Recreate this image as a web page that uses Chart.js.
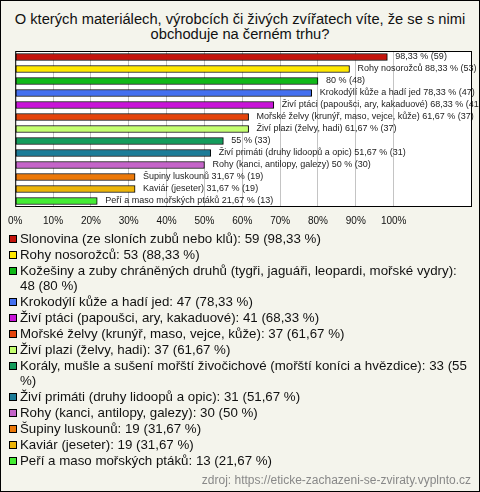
<!DOCTYPE html>
<html>
<head>
<meta charset="utf-8">
<script src="https://cdn.jsdelivr.net/npm/chart.js@4"></script>
<style>
  html, body { margin: 0; padding: 0; }
  body { font-family: "Liberation Sans", Arial, sans-serif; }
  #page {
    position: relative; width: 478px; height: 490px;
    border: 1px solid #000; background: #f4f4ec; overflow: hidden;
  }
  #title {
    position: absolute; left: 0; top: 11px; width: 478px;
    text-align: center; font-size: 14.7px; line-height: 15px; color: #111;
  }
  #chart-wrap { position: absolute; left: -1px; top: 39px; width: 480px; height: 199px; }
  #legend { position: absolute; left: 8px; top: 230px; width: 462px; font-size: 13.3px; color: #111; }
  .item { display: flex; align-items: flex-start; line-height: 15px; margin-bottom: 1px; }
  .box { flex: none; width: 6px; height: 6px; border: 1px solid #000; margin: 4px 3px 0 0; }
  #source { position: absolute; right: 8px; top: 472px; font-size: 12px; color: #888; }
</style>
</head>
<body>
<div id="page">
  <div id="title">O kterých materiálech, výrobcích či živých zvířatech víte, že se s nimi<br>obchoduje na černém trhu?</div>
  <div id="chart-wrap"><canvas id="bar-chart"></canvas></div>
  <div id="legend"></div>
  <div id="source">zdroj: https://eticke-zachazeni-se-zviraty.vyplnto.cz</div>
</div>
<script>
// Data
const categories = [
    'Slonovina (ze sloních zubů nebo klů)',
    'Rohy nosorožců',
    'Kožešiny a zuby chráněných druhů (tygři, jaguáři, leopardi, mořské vydry)',
    'Krokodýlí kůže a hadí jed',
    'Živí ptáci (papoušci, ary, kakaduové)',
    'Mořské želvy (krunýř, maso, vejce, kůže)',
    'Živí plazi (želvy, hadi)',
    'Korály, mušle a sušení mořští živočichové (mořští koníci a hvězdice)',
    'Živí primáti (druhy lidoopů a opic)',
    'Rohy (kanci, antilopy, galezy)',
    'Šupiny luskounů',
    'Kaviár (jeseter)',
    'Peří a maso mořských ptáků'
];
// names written next to the bars (empty = value only)
const barLabelNames = [
    '', 'Rohy nosorožců', '', 'Krokodýlí kůže a hadí jed',
    'Živí ptáci (papoušci, ary, kakaduové)', 'Mořské želvy (krunýř, maso, vejce, kůže)',
    'Živí plazi (želvy, hadi)', '', 'Živí primáti (druhy lidoopů a opic)',
    'Rohy (kanci, antilopy, galezy)', 'Šupiny luskounů', 'Kaviár (jeseter)',
    'Peří a maso mořských ptáků'
];
const counts = [59, 53, 48, 47, 41, 37, 37, 33, 31, 30, 19, 19, 13];
const percents = [98.33, 88.33, 80, 78.33, 68.33, 61.67, 61.67, 55, 51.67, 50, 31.67, 31.67, 21.67];
const xTicks = [0, 10, 20, 30, 40, 50, 60, 70, 80, 90, 100];
const colors = [
    '#c4140c', '#ffe800', '#10b818', '#4470f0', '#c814d8', '#e4440c', '#c4ff70',
    '#149c5c', '#1c7c98', '#c464c8', '#ec7808', '#ecb408', '#44ec34'
];

const fmtPct = (v) => String(v).replace('.', ',') + ' %';

// plot box: white background + black frame
const plotBox = {
    id: 'plotBox',
    beforeDraw(chart) {
        const { ctx, chartArea: a } = chart;
        ctx.save();
        ctx.fillStyle = '#ffffff';
        ctx.fillRect(a.left, a.top, a.right - a.left, a.bottom - a.top);
        ctx.restore();
    },
    afterDraw(chart) {
        const { ctx, chartArea: a } = chart;
        ctx.save();
        ctx.strokeStyle = '#000';
        ctx.lineWidth = 1;
        ctx.strokeRect(a.left + 0.5, a.top + 0.5, a.right - a.left - 1, a.bottom - a.top - 1);
        ctx.restore();
    }
};

// text after each bar
const barLabels = {
    id: 'barLabels',
    afterDatasetsDraw(chart) {
        const { ctx } = chart;
        const meta = chart.getDatasetMeta(0);
        ctx.save();
        ctx.font = '9px "Liberation Sans", Arial, sans-serif';
        ctx.fillStyle = '#222';
        ctx.textBaseline = 'middle';
        meta.data.forEach((bar, i) => {
            const name = barLabelNames[i];
            const txt = (name ? name + ' ' : '') + fmtPct(percents[i]) + ' (' + counts[i] + ')';
            ctx.fillText(txt, bar.x + 8, bar.y);
        });
        ctx.restore();
    }
};

const ctx = document.getElementById('bar-chart').getContext('2d');
new Chart(ctx, {
    type: 'bar',
    data: {
        labels: categories,
        datasets: [{
            data: percents,
            backgroundColor: colors,
            borderColor: '#000',
            borderWidth: 1,
            borderSkipped: false,
            barThickness: 7
        }]
    },
    options: {
        indexAxis: 'y',
        responsive: true,
        maintainAspectRatio: false,
        animation: false,
        layout: { padding: { left: 12, right: 8, top: 11, bottom: 4 } },
        plugins: {
            legend: { display: false },
            tooltip: { enabled: false }
        },
        scales: {
            y: { display: false },
            x: {
                min: 0,
                max: 120.7,
                afterBuildTicks: (axis) => {
                    axis.ticks = xTicks.map(v => ({ value: v }));
                },
                grid: {
                    color: '#c4c4c4',
                    drawTicks: false
                },
                border: { display: false },
                ticks: {
                    color: '#111',
                    padding: 8,
                    font: { size: 10, family: '"Liberation Sans", Arial, sans-serif' },
                    callback: (v) => v + '%'
                }
            }
        }
    },
    plugins: [plotBox, barLabels]
});

// HTML legend (wraps long entries like the original)
const legendEl = document.getElementById('legend');
categories.forEach((name, i) => {
    const item = document.createElement('div');
    item.className = 'item';
    const box = document.createElement('span');
    box.className = 'box';
    box.style.background = colors[i];
    const text = document.createElement('span');
    text.textContent = name + ': ' + counts[i] + ' (' + fmtPct(percents[i]) + ')';
    item.appendChild(box);
    item.appendChild(text);
    legendEl.appendChild(item);
});
</script>
</body>
</html>
